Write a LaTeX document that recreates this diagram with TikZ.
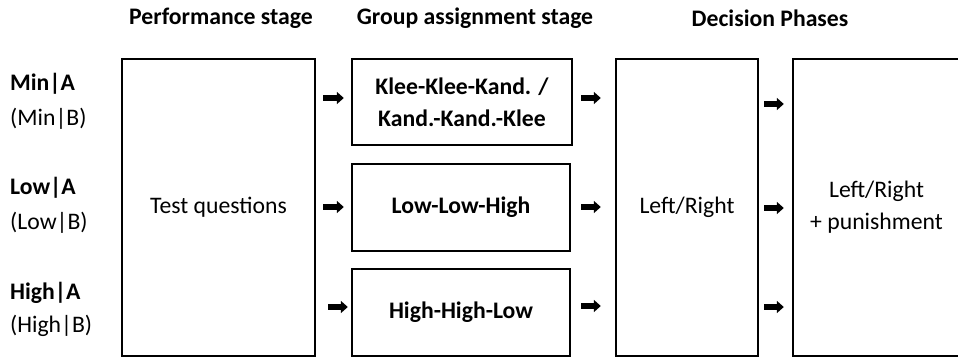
\documentclass[tikz,border=0pt]{standalone}
\usepackage{fontspec}
\setmainfont{Carlito}
\usetikzlibrary{arrows.meta}
\begin{document}
\begin{tikzpicture}[x=1pt,y=-1pt,
  hdr/.style={font=\bfseries\fontsize{23.7}{32}\selectfont, inner sep=0pt},
  lbl/.style={font=\fontsize{23.7}{32}\selectfont, inner sep=0pt, anchor=west},
  blbl/.style={lbl, font=\bfseries\fontsize{23.7}{32}\selectfont},
  box/.style={draw, line width=2.4pt, inner sep=0pt, align=center, font=\fontsize{23.7}{32}\selectfont},
  bbox/.style={box, font=\bfseries\fontsize{23.7}{32}\selectfont},
  arr/.style={line width=6pt, -{Triangle[length=7pt,width=12pt]}}]
\useasboundingbox (0,0) rectangle (958,358);
\begin{scope}
\clip (0,0) rectangle (958,358);
% headers
\node[hdr] (h1) at (221,18) {Performance stage};
\node[hdr] (h2) at (475,18) {Group assignment stage};
\node[hdr] (h3) at (770,18) {Decision Phases};
% left labels
\node[blbl] (l1a) at (10,84) {Min|A};
\node[lbl] (l1b) at (10,119) {(Min|B)};
\node[blbl] (l2a) at (10,188) {Low|A};
\node[lbl] (l2b) at (10,223) {(Low|B)};
\node[blbl] (l3a) at (10,293) {High|A};
\node[lbl] (l3b) at (10,326) {(High|B)};
% boxes
\node[box, minimum width=193pt, minimum height=297pt] (perf) at (218.5,207.5) {Test questions};
\node[bbox, minimum width=220pt, minimum height=86pt] (g1) at (462,102) {Klee-Klee-Kand. /\\Kand.-Kand.-Klee};
\node[bbox, minimum width=218pt, minimum height=87pt] (g2) at (461,207.5) {Low-Low-High};
\node[bbox, minimum width=218pt, minimum height=87pt] (g3) at (461,312.5) {High-High-Low};
\node[box, minimum width=142pt, minimum height=297pt] (d1) at (687,207.5) {Left/Right};
\node[box, minimum width=167pt, minimum height=297pt] (d2) at (876.5,207.5) {Left/Right\\+ punishment};
% arrows
\draw[arr, shorten <=7pt, shorten >=7pt] (perf.east |- {(0,98)}) -- (g1.west |- {(0,98)});
\draw[arr, shorten <=7pt, shorten >=7pt] (perf.east |- {(0,207)}) -- (g2.west |- {(0,207)});
\draw[arr, shorten <=12pt, shorten >=3pt] (perf.east |- {(0,307)}) -- (g3.west |- {(0,307)});
\draw[arr, shorten <=8pt, shorten >=14pt] (g1.east |- {(0,98)}) -- (d1.west |- {(0,98)});
\draw[arr, shorten <=10pt, shorten >=14pt] (g2.east |- {(0,207)}) -- (d1.west |- {(0,207)});
\draw[arr, shorten <=10pt, shorten >=14pt] (g3.east |- {(0,306)}) -- (d1.west |- {(0,306)});
\draw[arr, shorten <=5pt, shorten >=8pt] (d1.east |- {(0,104)}) -- (d2.west |- {(0,104)});
\draw[arr, shorten <=5pt, shorten >=8pt] (d1.east |- {(0,208)}) -- (d2.west |- {(0,208)});
\draw[arr, shorten <=5pt, shorten >=8pt] (d1.east |- {(0,307)}) -- (d2.west |- {(0,307)});
\end{scope}
\end{tikzpicture}
\end{document}
